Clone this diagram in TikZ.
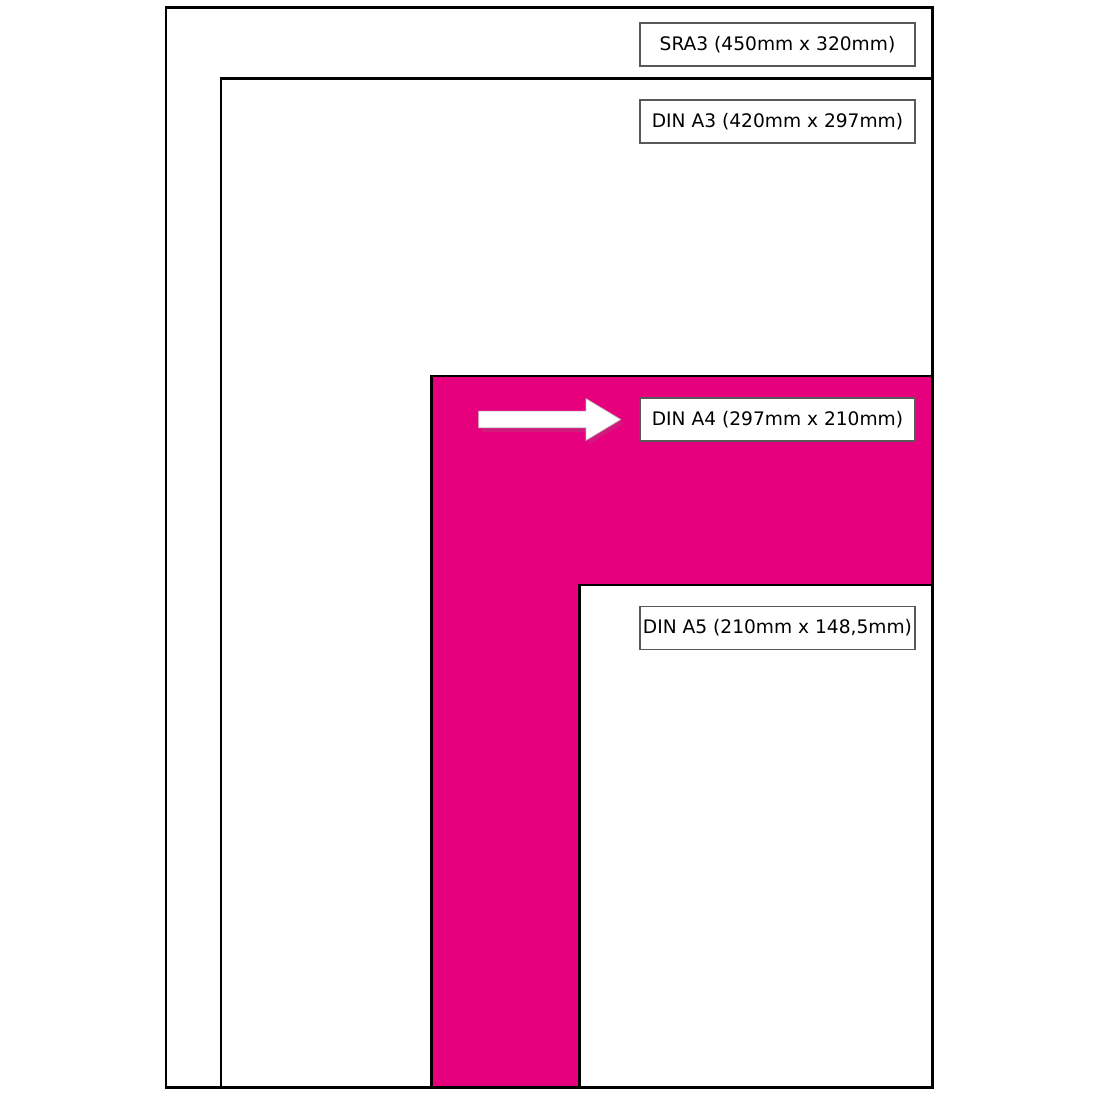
\documentclass[tikz,border=0pt]{standalone}
\usepackage{xcolor}
\usepackage{fontspec}
\setmainfont{DejaVu Sans}
\usetikzlibrary{positioning,shapes.arrows,shadows}
\definecolor{dinpink}{RGB}{230,0,126}

\begin{document}
\begin{tikzpicture}[x=0.1mm,y=-0.1mm,
  sheet/.style={draw=black,line width=0.85pt},
  sizelabel/.style={draw=black!65,fill=white,line width=0.35pt,
    minimum width=27.5mm,minimum height=4.3mm,inner sep=0pt,
    font=\fontsize{5.3}{6}\selectfont},
  pointer/.style={single arrow,fill=white,draw=black!25,line width=0.2pt,
    minimum height=14.2mm,inner sep=0.8mm,single arrow head extend=1.25mm,
    single arrow tip angle=62,
    drop shadow={opacity=0.2,shadow xshift=0.3mm,shadow yshift=-0.4mm}}]
\useasboundingbox (0,0) rectangle (1100,1100);
% sheets, largest first
\draw[sheet,fill=white] (166,8) rectangle (932,1087);
\draw[sheet,fill=white] (221,79) rectangle (932,1087);
\draw[sheet,fill=dinpink] (431,376) rectangle (932,1087);
\draw[sheet,fill=white] (579,585) rectangle (932,1087);
% size labels
\node[sizelabel] (sra3) at (777.5,44.5) {SRA3 (450mm x 320mm)};
\node[sizelabel] (a3) at (777.5,121.5) {DIN A3 (420mm x 297mm)};
\node[sizelabel] (a4) at (777.5,419.5) {DIN A4 (297mm x 210mm)};
\node[sizelabel] (a5) at (777.5,628) {DIN A5 (210mm x 148,5mm)};
% arrow at A4
\node[pointer,left=1.8mm of a4] (mark) {};
\end{tikzpicture}
\end{document}
